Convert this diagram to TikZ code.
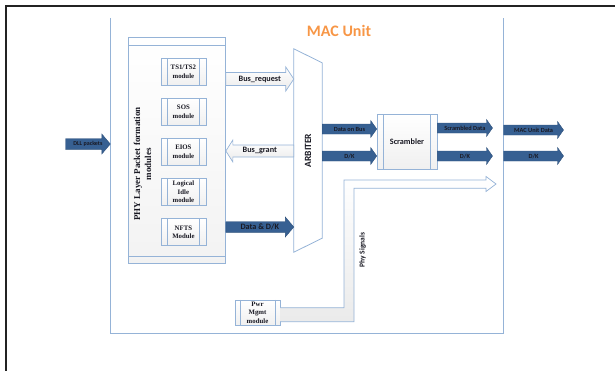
\documentclass[tikz,border=0pt]{standalone}
\usepackage{fontspec}
\setmainfont{Liberation Serif}
\newfontfamily\calfont{Carlito}
\usepackage{tikz}
\usetikzlibrary{positioning, calc}
\definecolor{boxline}{RGB}{149,179,215}
\definecolor{barblue}{RGB}{55,96,146}
\definecolor{macorange}{RGB}{247,150,70}
\definecolor{framegray}{RGB}{35,35,35}
\definecolor{txtdark}{RGB}{25,25,35}
\tikzset{
  blk/.style n args={3}{to path={
    ($(\tikztostart)+(0,#1)$) -- ($(\tikztotarget)+({-1*(#3)},#1)$)
    -- ($(\tikztotarget)+({-1*(#3)},#2)$) -- (\tikztotarget)
    -- ($(\tikztotarget)+({-1*(#3)},{-1*(#2)})$) -- ($(\tikztotarget)+({-1*(#3)},{-1*(#1)})$)
    -- ($(\tikztostart)+(0,{-1*(#1)})$) -- cycle}},
  fillarrow/.style={fill=barblue, draw=barblue!85!black, line width=0.4pt},
  hollowarrow/.style={draw=boxline, line width=0.7pt, top color=white, bottom color=black!8},
  bigfill/.style={fillarrow, blk={5.3}{10}{8.5}},
  smallfill/.style={fillarrow, blk={5}{8.5}{6}},
  hollowr/.style={hollowarrow, blk={6.5}{12}{8}},
  hollowl/.style={hollowarrow, blk={6}{11}{-7}},
  modbox/.style={rectangle, draw=boxline, top color=white, bottom color=black!6,
    line width=0.6pt, minimum width=45pt, minimum height=27pt, inner sep=0pt,
    align=center, font=\bfseries\fontsize{6.8}{8.5}\selectfont, text=txtdark,
    path picture={\draw[boxline, line width=0.6pt]
      ([xshift=#1]path picture bounding box.north west) -- ([xshift=#1]path picture bounding box.south west)
      ([xshift=-#1]path picture bounding box.north east) -- ([xshift=-#1]path picture bounding box.south east);}},
  modbox/.default=6.5pt,
  phybox/.style={rectangle, draw=boxline, top color=white, bottom color=black!5,
    line width=0.7pt, minimum width=97pt, minimum height=225.6pt, inner sep=0pt,
    path picture={\draw[boxline, line width=0.6pt]
      ([yshift=-7.5pt]path picture bounding box.north west) -- ([yshift=-7.5pt]path picture bounding box.north east)
      ([yshift=7.5pt]path picture bounding box.south west) -- ([yshift=7.5pt]path picture bounding box.south east);}},
  lbl/.style={font=\calfont\bfseries\fontsize{6.3}{7}\selectfont, text=txtdark, inner sep=0pt},
  buslbl/.style={font=\calfont\bfseries\fontsize{8.2}{9}\selectfont, text=txtdark, inner sep=0pt}
}

\begin{document}
\begin{tikzpicture}[x=1pt, y=-1pt]
  \useasboundingbox (0,0) rectangle (615,370);
  % outer frame
  \draw[framegray, line width=2pt] (6,375) -- (6,6) -- (620,6);

  % MAC unit container
  \node[minimum width=393pt, minimum height=315pt, inner sep=0pt] (mac) at (307,175.5) {};
  \draw[boxline, line width=0.8pt] (mac.north west) -- (mac.south west) -- (mac.south east) -- (mac.north east);
  \node[font=\calfont\bfseries\fontsize{16}{18}\selectfont, text=macorange, inner sep=0pt] (title) at (339,31.3) {MAC Unit};

  % PHY layer packet formation modules
  \node[phybox] (phy) at (177,150.5) {};
  \node[rotate=90, font=\bfseries\fontsize{9}{11}\selectfont, text=txtdark, align=center, inner sep=0pt] (phylbl) at (142.6,164) {PHY Layer Packet formation\\modules};
  \node[modbox] (ts) at (183.4,71.7) {TS1/TS2\\module};
  \node[modbox, below=12.5pt of ts] (sos) {SOS\\module};
  \node[modbox, below=12.5pt of sos] (eios) {EIOS\\module};
  \node[modbox, below=12.5pt of eios] (idle) {Logical\\Idle\\module};
  \node[modbox, below=12.5pt of idle] (nfts) {NFTS\\Module};

  % arbiter
  \node[minimum width=28pt, minimum height=203pt, inner sep=0pt] (arb) at (308,150.5) {};
  \draw[boxline, line width=0.8pt, fill=white] (arb.north west) -- ($(arb.north east)+(0,14)$) -- ($(arb.south east)+(0,-14)$) -- (arb.south west) -- cycle;
  \node[rotate=90, font=\calfont\bfseries\fontsize{9.5}{10}\selectfont, text=txtdark, inner sep=0pt] (arblbl) at (arb.center) {ARBITER};

  % scrambler and power management
  \node[modbox, minimum width=60pt, minimum height=55pt, font=\calfont\bfseries\fontsize{8.2}{9}\selectfont] (scr) at (407,141.5) {Scrambler};
  \node[modbox=5pt, minimum width=45pt, minimum height=25.5pt] (pwr) at (257.5,312.7) {Pwr\\Mgmt\\module};
  \coordinate (phyout) at (496,184);
  \draw[hollowarrow] ([yshift=5pt]pwr.east) -| (344,180) -- (486,180) -- (486,176.5) -- (phyout) -- (486,191.5) -- (486,188.3) -- (354,188.3) |- ([yshift=-9pt]pwr.east);
  \node[rotate=90, font=\calfont\bfseries\fontsize{7.5}{8}\selectfont, text=txtdark, inner sep=0pt] (physig) at (362.7,250) {Phy Signals};

  % bus arrows
  \coordinate (dll) at (65.5,144);
  \draw[bigfill] (dll) to (mac.west |- dll);
  \path (dll) -- node[lbl, font=\calfont\bfseries\fontsize{6}{7}\selectfont] {DLL packets} (mac.west |- dll);
  \draw[hollowr] (phy.east |- 0,79) to (arb.west |- 0,79);
  \path (phy.east |- 0,79) -- node[buslbl] {Bus\_request} (arb.west |- 0,79);
  \draw[hollowl] (arb.west |- 0,151) to (phy.east |- 0,151);
  \path (arb.west |- 0,151) -- node[buslbl] {Bus\_grant} (phy.east |- 0,151);
  \draw[bigfill] (phy.east |- 0,227) to (arb.west |- 0,227);
  \path (phy.east |- 0,227) -- node[buslbl] {Data \& D/K} (arb.west |- 0,227);

  \draw[smallfill] (arb.east |- 0,129) to (scr.west |- 0,129);
  \path (arb.east |- 0,129) -- node[lbl] {Data on Bus} (scr.west |- 0,129);
  \draw[smallfill] (arb.east |- 0,156) to (scr.west |- 0,156);
  \path (arb.east |- 0,156) -- node[lbl] {D/K} (scr.west |- 0,156);

  \coordinate (sd) at (492.5,128);
  \coordinate (sdk) at (492.5,156);
  \draw[smallfill] (scr.east |- sd) to (sd);
  \path (scr.east |- sd) -- node[lbl] {Scrambled Data} (sd);
  \draw[smallfill] (scr.east |- sdk) to (sdk);
  \path (scr.east |- sdk) -- node[lbl] {D/K} (sdk);

  \coordinate (md) at (563.5,130);
  \coordinate (mdk) at (563.5,156);
  \draw[smallfill] (mac.east |- md) to (md);
  \path (mac.east |- md) -- node[lbl] {MAC Unit Data} (md);
  \draw[smallfill] (mac.east |- mdk) to (mdk);
  \path (mac.east |- mdk) -- node[lbl] {D/K} (mdk);
\end{tikzpicture}
\end{document}
